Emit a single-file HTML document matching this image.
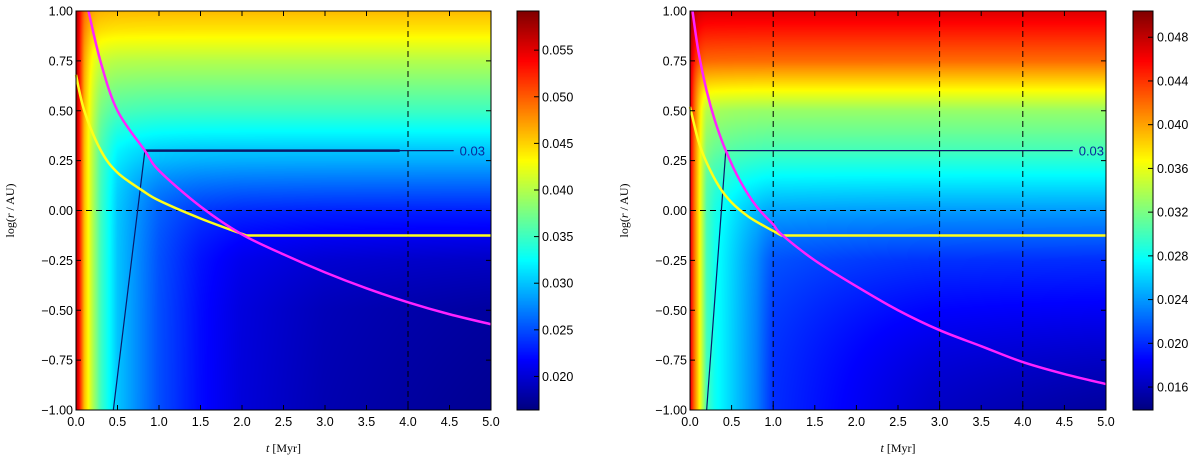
<!DOCTYPE html>
<html><head><meta charset="utf-8"><style>
html,body{margin:0;padding:0;background:#fff;width:1200px;height:457px;overflow:hidden}
#wrap{position:relative;width:1200px;height:457px}
canvas{position:absolute}
svg{position:absolute;left:0;top:0}
text{font-family:"Liberation Sans",sans-serif;font-size:12.5px;fill:#000}
.ser{font-family:"Liberation Serif",serif;font-size:12px}
</style></head><body>
<div id="wrap">
<canvas id="h0"></canvas>
<canvas id="h1"></canvas>
<canvas id="c0"></canvas>
<canvas id="c1"></canvas>
<svg id="s" width="1200" height="457"></svg>
</div>
<script>
// ---- data: left panel ----
const radLogR = [-1.0,-0.5,-0.25,0.0,0.25,0.3,0.5,0.75,0.9,1.0];
const leftRadVal = [0.016,0.017,0.019,0.023,0.029,0.030,0.035,0.040,0.044,0.046];
const timeT = [0,0.05,0.1,0.2,0.3,0.5,0.8,1.0,1.5,2.0,3.0,4.0,5.0];
const leftTimeVal = [0.058,0.052,0.046,0.040,0.035,0.030,0.027,0.025,0.022,0.020,0.018,0.017,0.016];
const leftMagT = [0.15,0.3,0.5,0.83,1.0,1.5,2.0,2.5,3.0,3.5,4.0,4.5,5.0];
const leftMagR = [1.0,0.74,0.5,0.3,0.2,0.02,-0.12,-0.22,-0.31,-0.39,-0.46,-0.52,-0.57];
const leftYelT = [0,0.1,0.3,0.5,0.8,1.0,1.5,2.05,5.0];
const leftYelR = [0.68,0.5,0.3,0.19,0.10,0.05,-0.04,-0.125,-0.125];
const leftCtrT = [0.45,0.83,4.55];
const leftCtrR = [-1.0,0.3,0.3];
const leftVDash = [4.0];
const leftCbTicks = [0.020,0.025,0.030,0.035,0.040,0.045,0.050,0.055];
const leftRange = [0.0164,0.0592];
// ---- data: right panel ----
const rightRadVal = [0.014,0.018,0.020,0.024,0.029,0.030,0.033,0.042,0.045,0.047];
const rightTimeVal = [0.047,0.042,0.038,0.030,0.028,0.026,0.023,0.020,0.019,0.018,0.016,0.015,0.014];
const rightMagT = [0.03,0.1,0.2,0.3,0.43,0.6,0.8,1.0,1.1,1.5,2.0,2.5,3.0,3.5,4.0,4.5,5.0];
const rightMagR = [1.0,0.8,0.6,0.45,0.3,0.15,0.02,-0.07,-0.12,-0.25,-0.38,-0.5,-0.6,-0.68,-0.76,-0.82,-0.87];
const rightYelT = [0,0.1,0.2,0.35,0.5,0.7,0.9,1.1,5.0];
const rightYelR = [0.52,0.35,0.24,0.12,0.04,-0.03,-0.08,-0.125,-0.125];
const rightCtrT = [0.2,0.43,4.6];
const rightCtrR = [-1.0,0.3,0.3];
const rightVDash = [1.0,3.0,4.0];
const rightCbTicks = [0.016,0.020,0.024,0.028,0.032,0.036,0.040,0.044,0.048];
const rightRange = [0.0139,0.0504];
const xTicks = [0,0.5,1,1.5,2,2.5,3,3.5,4,4.5,5];
const yTicks = [-1,-0.75,-0.5,-0.25,0,0.25,0.5,0.75,1];

function interp(xs,ys,x){
  if(x<=xs[0])return ys[0];
  for(let i=1;i<xs.length;i++){if(x<=xs[i]){const f=(x-xs[i-1])/(xs[i]-xs[i-1]);return ys[i-1]+f*(ys[i]-ys[i-1]);}}
  return ys[ys.length-1];
}
function jet(v){
  const c=x=>Math.max(0,Math.min(1,x));
  const r=c(1.5-Math.abs(4*v-3)),g=c(1.5-Math.abs(4*v-2)),b=c(1.5-Math.abs(4*v-1));
  return [r*255,g*255,b*255];
}
function smoothPath(pts){
  let d='M'+pts[0][0]+','+pts[0][1];
  for(let i=0;i<pts.length-1;i++){
    const p0=pts[Math.max(0,i-1)],p1=pts[i],p2=pts[i+1],p3=pts[Math.min(pts.length-1,i+2)];
    const c1=[p1[0]+(p2[0]-p0[0])/6,p1[1]+(p2[1]-p0[1])/6];
    const c2=[p2[0]-(p3[0]-p1[0])/6,p2[1]-(p3[1]-p1[1])/6];
    d+=` C${c1[0]},${c1[1]} ${c2[0]},${c2[1]} ${p2[0]},${p2[1]}`;
  }
  return d;
}
const NS='http://www.w3.org/2000/svg';
const svg=document.getElementById('s');
function el(tag,attrs,parent){const e=document.createElementNS(NS,tag);for(const k in attrs)e.setAttribute(k,attrs[k]);(parent||svg).appendChild(e);return e;}

const panels=[
 {x0:76,x1:491,cbx:517,cbw:22,lblx:546,rv:leftRadVal,tv:leftTimeVal,magT:leftMagT,magR:leftMagR,yelT:leftYelT,yelR:leftYelR,ctT:leftCtrT,ctR:leftCtrR,vd:leftVDash,cbt:leftCbTicks,rng:leftRange,hid:'h0',cid:'c0',nm:'left',thickEnd:3.9},
 {x0:690,x1:1106,cbx:1133,cbw:20,lblx:1161,rv:rightRadVal,tv:rightTimeVal,magT:rightMagT,magR:rightMagR,yelT:rightYelT,yelR:rightYelR,ctT:rightCtrT,ctR:rightCtrR,vd:rightVDash,cbt:rightCbTicks,rng:rightRange,hid:'h1',cid:'c1',nm:'right',thickEnd:null}
];
const Y0=11,Y1=410;
panels.forEach(p=>{
  const W=p.x1-p.x0,H=Y1-Y0;
  const sx=t=>p.x0+t/5*W, sy=r=>Y0+(1-r)/2*H;
  const norm=v=>(v-p.rng[0])/(p.rng[1]-p.rng[0]);
  const cv=document.getElementById(p.hid);cv.width=W;cv.height=H;cv.style.left=p.x0+'px';cv.style.top=Y0+'px';
  const ctx=cv.getContext('2d');const img=ctx.createImageData(W,H);
  const rowV=[];for(let j=0;j<H;j++)rowV.push(interp(radLogR,p.rv,1-2*(j+0.5)/H));
  const colV=[];for(let i=0;i<W;i++)colV.push(interp(timeT,p.tv,5*(i+0.5)/W));
  for(let j=0;j<H;j++)for(let i=0;i<W;i++){
    const a=rowV[j],b=colV[i];const v=Math.pow(Math.pow(a,10)+Math.pow(b,10),0.1);
    const c=jet(norm(v));const k=(j*W+i)*4;img.data[k]=c[0];img.data[k+1]=c[1];img.data[k+2]=c[2];img.data[k+3]=255;}
  ctx.putImageData(img,0,0);
  const cb=document.getElementById(p.cid);cb.width=p.cbw;cb.height=H;cb.style.left=p.cbx+'px';cb.style.top=Y0+'px';
  const cc=cb.getContext('2d');
  for(let j=0;j<H;j++){const c=jet(1-(j+0.5)/H);cc.fillStyle=`rgb(${c[0]|0},${c[1]|0},${c[2]|0})`;cc.fillRect(0,j,p.cbw,1);}
  const g=el('g',{});
  p.vd.forEach(t=>{const l=el('line',{x1:sx(t),x2:sx(t),y1:Y0,y2:Y1,stroke:'#000','stroke-width':1,'stroke-dasharray':'6,4'},g);});
  const hl=el('line',{x1:p.x0,x2:p.x1,y1:sy(0),y2:sy(0),stroke:'#000','stroke-width':1,'stroke-dasharray':'6,4'},g);
  
  const cp=el('polyline',{points:p.ctT.map((t,i)=>sx(t)+','+sy(p.ctR[i])).join(' '),fill:'none',stroke:'#0a1a6a','stroke-width':1.2},g);
  
  if(p.thickEnd){const tl=el('line',{x1:sx(p.ctT[1]),x2:sx(p.thickEnd),y1:sy(p.ctR[1]),y2:sy(p.ctR[1]),stroke:'#0a1a6a','stroke-width':2.5},g);}
  const cl=el('text',{x:sx(p.ctT[2])+6,y:sy(p.ctR[2])+5,style:'fill:#0a2a9a;font-size:13px'},g);cl.textContent='0.03';
  
  const yp=p.yelT.map((t,i)=>[sx(t),sy(p.yelR[i])]);
  const last=yp[yp.length-1];
  const ym=el('path',{d:smoothPath(yp.slice(0,-1))+` L${last[0]},${last[1]}`,fill:'none',stroke:'#ffff1a','stroke-width':2.5},g);
  
  const mp=p.magT.map((t,i)=>[sx(t),sy(p.magR[i])]);
  const mg=el('path',{d:smoothPath(mp),fill:'none',stroke:'#ff22ff','stroke-width':2.5},g);
  
  const cover=el('rect',{x:p.x1+0.5,y:Y0-2,width:p.cbx-p.x1-1,height:H+4,fill:'#fff'},g);
  
  const fr=el('rect',{x:p.x0,y:Y0,width:W,height:H,fill:'none',stroke:'#000','stroke-width':1},g);
  
  xTicks.forEach(t=>{const x=sx(t);
    el('line',{x1:x,x2:x,y1:Y1,y2:Y1-5,stroke:'#000'},g);el('line',{x1:x,x2:x,y1:Y0,y2:Y0+5,stroke:'#000'},g);
    const tx=el('text',{x:x,y:Y1+16,'text-anchor':'middle'},g);tx.textContent=t.toFixed(1);
    });
  yTicks.forEach(r=>{const y=sy(r);
    el('line',{x1:p.x0,x2:p.x0+5,y1:y,y2:y,stroke:'#000'},g);el('line',{x1:p.x1,x2:p.x1-5,y1:y,y2:y,stroke:'#000'},g);
    const tx=el('text',{x:p.x0-3,y:y+4.5,'text-anchor':'end'},g);tx.textContent=(r<0?'\u2212':'')+Math.abs(r).toFixed(2);
    });
  const xl=el('text',{x:(p.x0+p.x1)/2,y:452,'text-anchor':'middle',class:'ser'},g);xl.innerHTML='<tspan font-style="italic">t</tspan> [Myr]';
  
  const yx=p.x0-62;const yl=el('text',{x:yx,y:(Y0+Y1)/2,'text-anchor':'middle',class:'ser',transform:`rotate(-90 ${yx} ${(Y0+Y1)/2})`},g);
  yl.innerHTML='log(<tspan font-style="italic">r</tspan> / AU)';
  
  const cf=el('rect',{x:p.cbx,y:Y0,width:p.cbw,height:H,fill:'none',stroke:'#000'},g);
  
  p.cbt.forEach(v=>{const y=Y1-norm(v)*H;
    el('line',{x1:p.cbx+p.cbw,x2:p.cbx+p.cbw-5,y1:y,y2:y,stroke:'#000'},g);
    const tx=el('text',{x:p.lblx-4,y:y+4.5},g);tx.textContent=v.toFixed(3);
    });
});
</script>
</body></html>
